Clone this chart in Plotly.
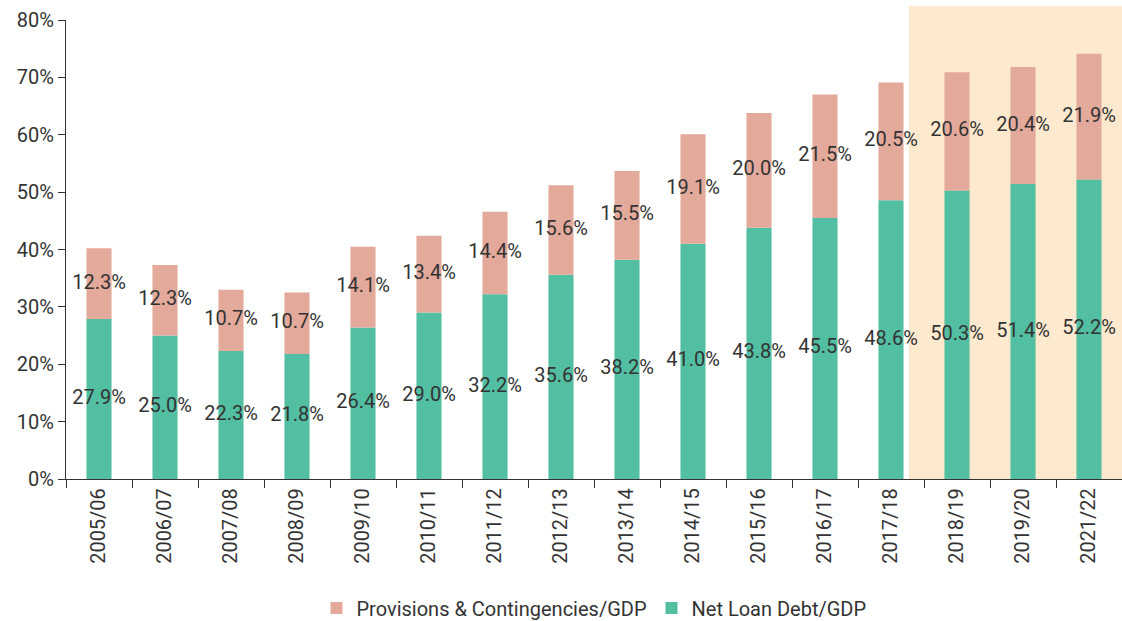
import plotly.graph_objects as go

years = ["2005/06", "2006/07", "2007/08", "2008/09", "2009/10", "2010/11", "2011/12",
         "2012/13", "2013/14", "2014/15", "2015/16", "2016/17", "2017/18", "2018/19",
         "2019/20", "2021/22"]
net_loan_debt = [27.9, 25.0, 22.3, 21.8, 26.4, 29.0, 32.2, 35.6, 38.2, 41.0, 43.8, 45.5,
                 48.6, 50.3, 51.4, 52.2]
provisions = [12.3, 12.3, 10.7, 10.7, 14.1, 13.4, 14.4, 15.6, 15.5, 19.1, 20.0, 21.5,
              20.5, 20.6, 20.4, 21.9]
y_ticks = [0, 10, 20, 30, 40, 50, 60, 70, 80]

GREEN = "#52BEA2"
PINK = "#E3A99B"
SHADE = "#FDE9CE"
TEXT = "#333333"
FONT = "Roboto"
SIZE = 20

fig = go.Figure()

fig.add_trace(go.Bar(
    x=years, y=net_loan_debt, name="Net Loan Debt/GDP",
    marker=dict(color=GREEN, line=dict(width=0)),
))
fig.add_trace(go.Bar(
    x=years, y=provisions, base=net_loan_debt, name="Provisions & Contingencies/GDP",
    marker=dict(color=PINK, line=dict(width=0)),
))

# value labels centred on each segment
fig.add_trace(go.Scatter(
    x=years, y=[v / 2 for v in net_loan_debt], mode="text",
    text=[f"{v:.1f}%" for v in net_loan_debt],
    textfont=dict(family=FONT, size=SIZE, color=TEXT),
    showlegend=False, hoverinfo="skip", cliponaxis=False,
))
fig.add_trace(go.Scatter(
    x=years, y=[n + p / 2 for n, p in zip(net_loan_debt, provisions)], mode="text",
    text=[f"{p:.1f}%" for p in provisions],
    textfont=dict(family=FONT, size=SIZE, color=TEXT),
    showlegend=False, hoverinfo="skip", cliponaxis=False,
))

# highlighted forecast period
fig.add_shape(
    type="rect", xref="x", yref="paper",
    x0=12.27, x1=15.5, y0=0, y1=1.0305,
    fillcolor=SHADE, line=dict(width=0), layer="below",
)

fig.update_layout(
    barmode="overlay",
    bargap=0.62,
    width=1122, height=621,
    margin=dict(l=66, r=0, t=20, b=142, autoexpand=False),
    plot_bgcolor="white", paper_bgcolor="white",
    font=dict(family=FONT, size=SIZE, color=TEXT),
    legend=dict(
        orientation="h", x=0.5, xanchor="center", y=-0.281, yanchor="middle",
        traceorder="reversed", font=dict(family=FONT, size=SIZE, color=TEXT),
        itemwidth=30,
    ),
)

fig.update_xaxes(
    type="category", tickangle=-90, tickson="boundaries", automargin=False,
    ticks="outside", ticklen=8, tickcolor=TEXT, tickwidth=1.3,
    showline=True, linecolor=TEXT, linewidth=1.3,
    showgrid=False, range=[-0.5, 15.5],
    tickfont=dict(family=FONT, size=SIZE, color=TEXT),
)
fig.update_yaxes(
    range=[0, 80], tickvals=y_ticks, ticktext=[f"{t}%" for t in y_ticks],
    automargin=False,
    ticks="outside", ticklen=7, tickcolor=TEXT, tickwidth=1.3,
    showline=True, linecolor=TEXT, linewidth=1.3,
    showgrid=False, zeroline=False,
    tickfont=dict(family=FONT, size=SIZE, color=TEXT),
)

fig.write_html("out.html")
